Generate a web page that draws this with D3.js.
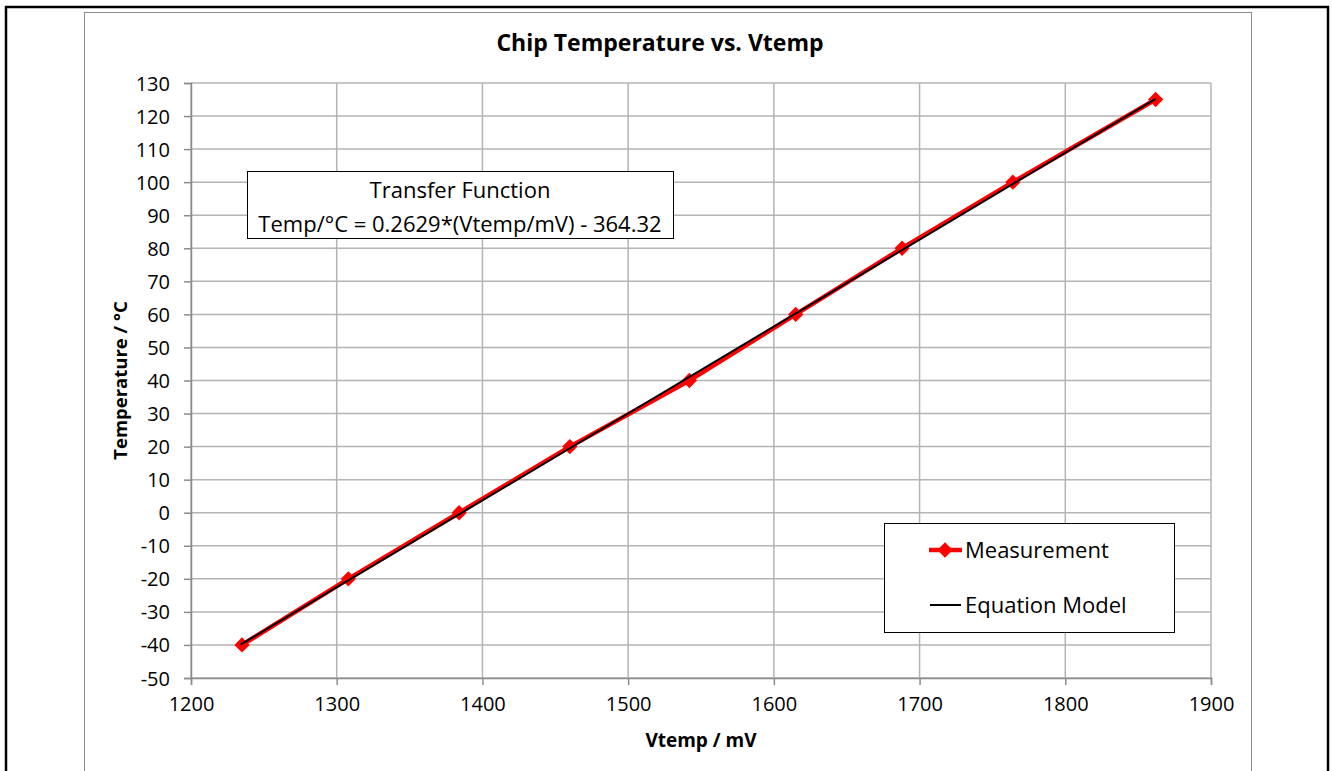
<!DOCTYPE html>
<html>
<head>
<meta charset="utf-8">
<script src="https://cdn.jsdelivr.net/npm/d3@7"></script>
<style>
  body { margin: 0; background: #fff; }
  svg { font-family: "Open Sans", "Liberation Sans", sans-serif; }
</style>
</head>
<body>
<svg width="1332" height="771"></svg>
<script>
var vtemp = [1235, 1308, 1384, 1460, 1542, 1615, 1688, 1764, 1862];
var temp = [-40, -20, 0, 20, 40, 60, 80, 100, 125];
// equation model line end points
var modelV = [1234, 1862];
var modelT = [-39.9, 125.2];
var xTicks = [1200, 1300, 1400, 1500, 1600, 1700, 1800, 1900];
var yTicks = [-50, -40, -30, -20, -10, 0, 10, 20, 30, 40, 50, 60, 70, 80, 90, 100, 110, 120, 130];

var svg = d3.select("svg"),
    margin = { top: 83, right: 121, bottom: 93, left: 191 },
    width = +svg.attr("width") - margin.left - margin.right,
    height = +svg.attr("height") - margin.top - margin.bottom;

// outer frames
svg.append("rect").attr("x", 6).attr("y", 7).attr("width", 1322).attr("height", 800)
    .attr("fill", "none").attr("stroke", "#000").attr("stroke-width", 2.5);
svg.append("rect").attr("x", 84.5).attr("y", 12.5).attr("width", 1167).attr("height", 800)
    .attr("fill", "none").attr("stroke", "#8c8c8c").attr("stroke-width", 1);

var x = d3.scaleLinear().domain([1200, 1900]).range([0, width]),
    y = d3.scaleLinear().domain([-50, 130]).range([height, 0]);

var g = svg.append("g")
    .attr("transform", "translate(" + margin.left + "," + margin.top + ")");

// grid
g.selectAll(".hgrid").data(yTicks).enter().append("line")
    .attr("x1", 0).attr("x2", width)
    .attr("y1", function(d) { return y(d); }).attr("y2", function(d) { return y(d); })
    .attr("stroke", "#b4b4b4").attr("stroke-width", 1.5);
g.selectAll(".vgrid").data(xTicks).enter().append("line")
    .attr("y1", 0).attr("y2", height)
    .attr("x1", function(d) { return x(d); }).attr("x2", function(d) { return x(d); })
    .attr("stroke", "#b4b4b4").attr("stroke-width", 1.5);

// axes (plain hyphen for negatives, like the original)
var fmt = function(d) { return String(d); };
var xAxis = g.append("g")
    .attr("transform", "translate(0," + height + ")")
    .call(d3.axisBottom(x).tickValues(xTicks).tickSize(7).tickPadding(12).tickFormat(fmt));
var yAxis = g.append("g")
    .call(d3.axisLeft(y).tickValues(yTicks).tickSize(7).tickPadding(14).tickFormat(fmt));
[xAxis, yAxis].forEach(function(a) {
    a.select(".domain").attr("stroke", "#8c8c8c").attr("stroke-width", 1.5);
    a.selectAll(".tick line").attr("stroke", "#8c8c8c").attr("stroke-width", 1.5);
    a.selectAll("text").attr("fill", "#000").style("font-size", "20px")
        .style("font-family", "'Open Sans', sans-serif");
});
yAxis.selectAll("text").attr("dy", "0.35em");

// measurement series
var line = d3.line()
    .x(function(d, i) { return x(vtemp[i]); })
    .y(function(d, i) { return y(temp[i]); });
g.append("path").datum(vtemp).attr("d", line)
    .attr("fill", "none").attr("stroke", "#ff0000").attr("stroke-width", 4.5);
var diamond = d3.symbol().type(d3.symbolDiamond2).size(150);
g.selectAll(".pt").data(vtemp).enter().append("path")
    .attr("d", diamond)
    .attr("transform", function(d, i) { return "translate(" + x(d) + "," + y(temp[i]) + ")"; })
    .attr("fill", "#ff0000");

// equation model
var mline = d3.line()
    .x(function(d, i) { return x(modelV[i]); })
    .y(function(d, i) { return y(modelT[i]); });
g.append("path").datum(modelV).attr("d", mline)
    .attr("fill", "none").attr("stroke", "#000").attr("stroke-width", 2);

// titles
svg.append("text").attr("x", 660).attr("y", 51).attr("text-anchor", "middle")
    .style("font-size", "23px").style("font-weight", "bold").text("Chip Temperature vs. Vtemp");
svg.append("text").attr("x", margin.left + width / 2).attr("y", 747).attr("text-anchor", "middle")
    .style("font-size", "19px").style("font-weight", "bold").text("Vtemp / mV");
svg.append("text").attr("transform", "translate(127," + (margin.top + height / 2) + ") rotate(-90)")
    .attr("text-anchor", "middle")
    .style("font-size", "18.5px").style("font-weight", "bold").text("Temperature / °C");

// transfer function box
var tb = svg.append("g");
tb.append("rect").attr("x", 247.5).attr("y", 171.5).attr("width", 426).attr("height", 67)
    .attr("fill", "#fff").attr("stroke", "#000").attr("stroke-width", 1);
tb.append("text").attr("x", 460).attr("y", 198).attr("text-anchor", "middle")
    .style("font-size", "22px").text("Transfer Function");
tb.append("text").attr("x", 460).attr("y", 232).attr("text-anchor", "middle")
    .style("font-size", "22px").text("Temp/°C = 0.2629*(Vtemp/mV) - 364.32");

// legend
var lg = svg.append("g");
lg.append("rect").attr("x", 884.5).attr("y", 523.5).attr("width", 290).attr("height", 109)
    .attr("fill", "#fff").attr("stroke", "#000").attr("stroke-width", 1);
lg.append("line").attr("x1", 929).attr("x2", 962).attr("y1", 550).attr("y2", 550)
    .attr("stroke", "#ff0000").attr("stroke-width", 4.5);
lg.append("path").attr("d", diamond).attr("transform", "translate(945,550)").attr("fill", "#ff0000");
lg.append("text").attr("x", 965).attr("y", 558).style("font-size", "22px").text("Measurement");
lg.append("line").attr("x1", 930).attr("x2", 961).attr("y1", 605).attr("y2", 605)
    .attr("stroke", "#000").attr("stroke-width", 2);
lg.append("text").attr("x", 965).attr("y", 613).style("font-size", "22px").text("Equation Model");
</script>
</body>
</html>
